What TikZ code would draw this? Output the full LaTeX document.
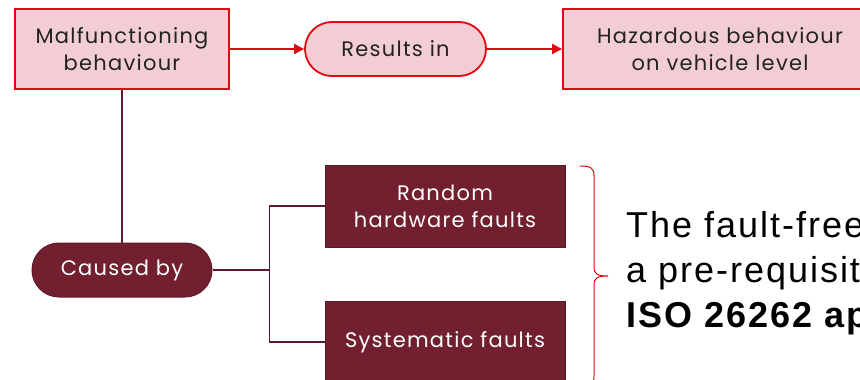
\documentclass[tikz,border=0pt]{standalone}
\usepackage{fontspec}
\setmainfont{Poppins}[LetterSpace=6]
\newfontfamily\bigfont{Liberation Sans}[LetterSpace=5.5]
\usetikzlibrary{arrows.meta}
\definecolor{pinkfill}{HTML}{F2CED4}
\definecolor{redline}{HTML}{E30613}
\definecolor{maroon}{HTML}{722030}
\definecolor{maroonline}{HTML}{5E1A2A}
\definecolor{txt}{HTML}{222222}
\tikzset{
  pinkbox/.style={draw=redline, line width=1.8pt, fill=pinkfill, text=txt, align=center,
    font=\fontsize{21}{27}\selectfont, inner sep=0pt},
  marbox/.style={draw=maroonline, line width=1pt, fill=maroon, text=white, align=center,
    font=\fontsize{21}{27}\selectfont, inner sep=0pt},
  redarrow/.style={draw=redline, line width=1.8pt, -{Triangle[length=10pt,width=10pt]}},
  marline/.style={draw=maroonline, line width=1.8pt},
  bigtext/.style={anchor=base west, inner sep=0pt, text=black, font=\bigfont\fontsize{36}{45}\selectfont},
}
\begin{document}
\begin{tikzpicture}[x=1pt,y=-1pt]
\useasboundingbox (0,0) rectangle (860,380);
\clip (0,0) rectangle (860,380);
\node[pinkbox, minimum width=214pt, minimum height=80pt] (mal) at (122,49) {Malfunctioning\\behaviour};
\node[pinkbox, minimum width=181pt, minimum height=54pt, rounded corners=27pt] (res) at (395.5,49) {Results in};
\node[pinkbox, minimum width=314pt, minimum height=80pt] (haz) at (720,49) {Hazardous behaviour\\on vehicle level};
\node[marbox, minimum width=180pt, minimum height=54pt, rounded corners=27pt] (cau) at (122,270) {Caused by};
\node[marbox, minimum width=240pt, minimum height=82pt] (rnd) at (445,206) {Random\\hardware faults};
\node[marbox, minimum width=240pt, minimum height=82pt] (sys) at (445,342) {Systematic faults};
\draw[redarrow] (mal) -- (res);
\draw[redarrow] (res) -- (haz);
\draw[marline] (mal.south) -- (cau.north);
\draw[marline] (cau.east) -- ++(57,0) coordinate (j);
\draw[marline] (j) |- (rnd.west);
\draw[marline] (j) |- (sys.west);
\draw[redline, line width=1pt] (580,166) .. controls (591,166) and (594,168) .. (594,176) -- (594,267)
  .. controls (594,274) and (597,276) .. (608,276) .. controls (597,276) and (594,278) .. (594,285)
  -- (594,376) .. controls (594,384) and (591,386) .. (580,386);
\node[bigtext] (t1) at (626,237) {The fault-free};
\node[bigtext] (t2) at (626,282) {a pre-requisite};
\node[bigtext] (t3) at (626,327) {\bfseries ISO 26262 ap};
\end{tikzpicture}
\end{document}
